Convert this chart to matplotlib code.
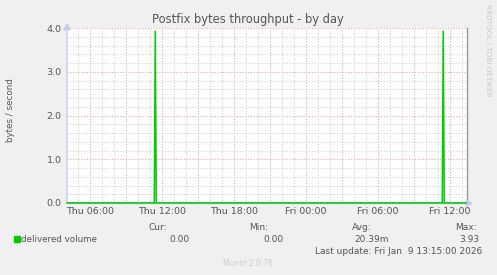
import numpy as np
import matplotlib
matplotlib.use('Agg')
import matplotlib.pyplot as plt
from matplotlib.ticker import MultipleLocator
from matplotlib.patches import FancyArrowPatch

# hours since Thu 00:00, sampled every 5 minutes
t_start = 4.083
t_end = 37.42
spike_times = [11.44, 35.44]
spike_values = [3.93, 3.93]

tick_hours = [6, 12, 18, 24, 30, 36]
tick_labels = ['Thu 06:00', 'Thu 12:00', 'Thu 18:00', 'Fri 00:00', 'Fri 06:00', 'Fri 12:00']
ytick_values = [0.0, 1.0, 2.0, 3.0, 4.0]

legend_name = 'delivered volume'
stat_heads = ['Cur:', 'Min:', 'Avg:', 'Max:']
stat_values = ['0.00', '0.00', '20.39m', '3.93']
last_update = 'Last update: Fri Jan  9 13:15:00 2026'

# build the line: zero everywhere, one 5-minute sample up at each spike
xs = [t_start]
ys = [0.0]
for st, sv in zip(spike_times, spike_values):
    xs += [st - 1/12, st, st + 1/12]
    ys += [0.0, sv, 0.0]
xs.append(t_end)
ys.append(0.0)

W, H = 497, 275
fg = plt.figure(figsize=(W/100, H/100), dpi=100)
fg.patch.set_facecolor('#f0f0f0')
fc = '#555555'

def px(x, y):
    return x / W, 1 - y / H

L, R, T, B = 67, 467, 28, 203
ax = fg.add_axes([L/W, 1 - B/H, (R-L)/W, (B-T)/H])
ax.set_facecolor('white')
ax.set_xlim(t_start, t_end)
ax.set_ylim(0, 4)

dot = (0, (1, 1.5))
ax.xaxis.set_minor_locator(MultipleLocator(1))
ax.yaxis.set_minor_locator(MultipleLocator(0.2))
ax.grid(which='minor', color='#d2d2d2', linestyle=dot, linewidth=0.8)
for h in np.arange(3, 39, 3):
    if t_start < h < t_end:
        ax.axvline(h, color='#e8a4a4', linestyle=dot, linewidth=0.8, zorder=1.5)
for v in ytick_values[1:]:
    ax.axhline(v, color='#e8a4a4', linestyle=dot, linewidth=0.8, zorder=1.5)

ax.plot(xs, ys, color='#00cc00', linewidth=1.1, zorder=3)

for s in ['top', 'left', 'bottom']:
    ax.spines[s].set_visible(False)
ax.spines['right'].set_color('#999999')
ax.spines['right'].set_linewidth(1)

ax.set_xticks(tick_hours)
ax.set_xticklabels(tick_labels)
ax.set_yticks(ytick_values)
ax.set_yticklabels(['%.1f' % v for v in ytick_values])
ax.tick_params(which='both', length=0, labelsize=6.8, labelcolor=fc, pad=3)
ax.tick_params(axis='y', pad=4)

# axes with arrows, drawn on the figure so they sit above the plot
arrow_kw = dict(arrowstyle='-|>,head_width=2.2,head_length=4', color='#c8ccf4', lw=1,
                transform=fg.transFigure, mutation_scale=1, zorder=5)
fg.add_artist(FancyArrowPatch(px(L, 206), px(L, 20), **arrow_kw))
fg.add_artist(FancyArrowPatch(px(64, B), px(476, B), **arrow_kw))
fg.add_artist(plt.Line2D([L/W, 466/W], [1 - B/H, 1 - B/H], color='#00cc00', lw=1.1,
                         transform=fg.transFigure, zorder=6))

fg.text(*px(248, 20), 'Postfix bytes throughput - by day', ha='center', va='center',
        fontsize=8.3, color=fc)
fg.text(*px(11, 110), 'bytes / second', rotation=90, ha='center', va='center',
        fontsize=6.3, color=fc)
fg.text(*px(488, 50), 'RRDTOOL / TOBI OETIKER', rotation=270, ha='center', va='center',
        fontsize=5.2, color='#c8c8c8')

# legend block
fg.patches.append(plt.Rectangle(px(14, 242), 6/W, 6/H, transform=fg.transFigure,
                                color='#00cc00', figure=fg))
fg.text(*px(21, 239), legend_name, ha='left', va='center', fontsize=6.3, color=fc)
head_x = [167, 268, 372, 477]
val_x = [189, 283, 389, 479]
for hx, hd in zip(head_x, stat_heads):
    fg.text(*px(hx, 227), hd, ha='right', va='center', fontsize=6.5, color=fc)
for vx, vl in zip(val_x, stat_values):
    fg.text(*px(vx, 239), vl, ha='right', va='center', fontsize=6.5, color=fc)
fg.text(*px(482, 251), last_update, ha='right', va='center', fontsize=6.5, color=fc)
fg.text(*px(248, 263), 'Munin 2.0.76', ha='center', va='center', fontsize=5.5, color='#cccccc')

fg.savefig('out.png', dpi=100, facecolor=fg.get_facecolor())
